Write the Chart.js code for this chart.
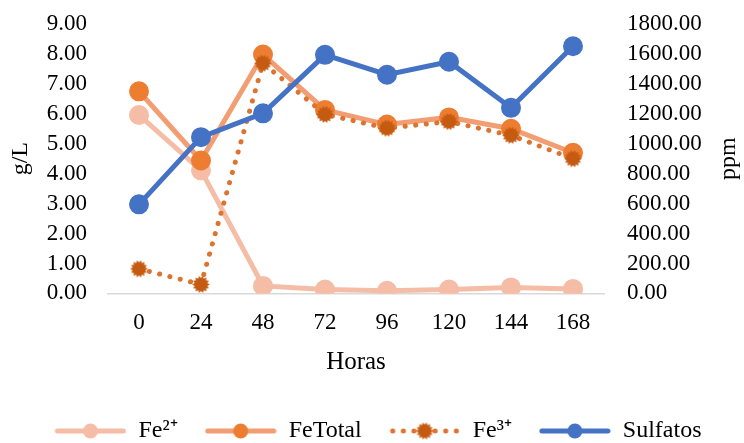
<!DOCTYPE html>
<html>
<head>
<meta charset="utf-8">
<script src="https://cdn.jsdelivr.net/npm/chart.js@4"></script>
<style>
  body { margin: 0; background: #fff; }
  #wrap { width: 744px; height: 443px; }
</style>
</head>
<body>
<div id="wrap"><canvas id="graph-line" width="744" height="443"></canvas></div>
<script>
var horas = ['0', '24', '48', '72', '96', '120', '144', '168'];
var fe2 = [5.96, 4.11, 0.25, 0.13, 0.09, 0.13, 0.20, 0.15];
var feTotal = [6.75, 4.44, 7.98, 6.13, 5.64, 5.88, 5.50, 4.70];
var fe3 = [0.82, 0.30, 7.69, 5.98, 5.52, 5.74, 5.28, 4.50];
var sulfatos = [595, 1044, 1203, 1594, 1461, 1548, 1240, 1651];

var font = 'Liberation Serif, Times New Roman, serif';

function spikyMarker(color, r) {
    var c = document.createElement('canvas');
    var s = Math.ceil(r * 2 + 4);
    c.width = s; c.height = s;
    var g = c.getContext('2d');
    g.translate(s / 2, s / 2);
    g.fillStyle = color;
    g.beginPath();
    var n = 14;
    for (var i = 0; i < n * 2; i++) {
        var a = Math.PI * i / n;
        var rr = i % 2 === 0 ? r + 1.3 : r - 1.0;
        g.lineTo(Math.cos(a) * rr, Math.sin(a) * rr);
    }
    g.closePath();
    g.fill();
    return c;
}

function legendIcon(lineColor, markerColor, dotted) {
    var c = document.createElement('canvas');
    c.width = 72; c.height = 20;
    var g = c.getContext('2d');
    g.strokeStyle = lineColor;
    g.lineWidth = 5;
    g.lineCap = 'round';
    if (dotted) g.setLineDash([0.1, 10.5]);
    g.beginPath();
    g.moveTo(dotted ? 4 : 3, 10);
    g.lineTo(69, 10);
    g.stroke();
    if (dotted) {
        var m = spikyMarker(markerColor, 7.5);
        g.drawImage(m, 36 - m.width / 2, 10 - m.height / 2);
    } else {
        g.fillStyle = markerColor;
        g.beginPath();
        g.arc(36, 10, 7.5, 0, Math.PI * 2);
        g.fill();
    }
    return c;
}

// titulo do eixo direito lido de baixo para cima, como no Excel
var rightTitle = {
    id: 'rightTitle',
    afterDraw: function (chart) {
        var a = chart.chartArea;
        var c = chart.ctx;
        c.save();
        c.translate(729, (a.top + a.bottom) / 2);
        c.rotate(-Math.PI / 2);
        c.fillStyle = '#000';
        c.font = '24px ' + font;
        c.textAlign = 'center';
        c.textBaseline = 'middle';
        c.fillText('ppm', 0, 0);
        c.restore();
    }
};

function createGraphLine() {
    var ctx = document.getElementById('graph-line').getContext('2d');

    var icons = [
        legendIcon('#F5BCA6', '#F5BCA6', false),
        legendIcon('#F29D72', '#ED7D31', false),
        legendIcon('#DC7330', '#C55A11', true),
        legendIcon('#4472C4', '#4472C4', false)
    ];

    var data = {
        labels: horas,
        datasets: [{
            label: 'Fe\u00B2\u207A',
            data: fe2,
            yAxisID: 'y',
            borderColor: '#F5BCA6',
            backgroundColor: '#F5BCA6',
            borderWidth: 5,
            pointRadius: 7.5,
            pointHoverRadius: 7.5,
            order: 3
        }, {
            label: 'FeTotal',
            data: feTotal,
            yAxisID: 'y',
            borderColor: '#F29D72',
            backgroundColor: '#ED7D31',
            pointBorderColor: '#ED7D31',
            borderWidth: 5,
            pointRadius: 7.5,
            pointHoverRadius: 7.5,
            order: 2
        }, {
            label: 'Fe\u00B3\u207A',
            data: fe3,
            yAxisID: 'y',
            borderColor: '#DC7330',
            backgroundColor: '#C55A11',
            borderWidth: 5,
            borderDash: [0.1, 10.5],
            borderCapStyle: 'round',
            pointStyle: spikyMarker('#C55A11', 7.5),
            pointRadius: 7.5,
            order: 1
        }, {
            label: 'Sulfatos',
            data: sulfatos,
            yAxisID: 'y1',
            borderColor: '#4472C4',
            backgroundColor: '#4472C4',
            borderWidth: 5,
            pointRadius: 7.5,
            pointHoverRadius: 7.5,
            order: 0
        }]
    };

    var options = {
        responsive: false,
        animation: false,
        layout: { padding: { left: 12, right: 0, top: 24, bottom: -10 } },
        plugins: {
            legend: {
                position: 'bottom',
                labels: {
                    usePointStyle: true,
                    pointStyleWidth: 72,
                    padding: 27,
                    color: '#000',
                    font: { family: font, size: 24 },
                    sort: function (a, b) { return a.datasetIndex - b.datasetIndex; },
                    generateLabels: function (chart) {
                        var items = Chart.defaults.plugins.legend.labels.generateLabels(chart);
                        items.forEach(function (it) {
                            it.pointStyle = icons[it.datasetIndex];
                            it.lineWidth = 0;
                        });
                        return items;
                    }
                }
            },
            tooltip: { enabled: false }
        },
        scales: {
            x: {
                offset: true,
                grid: { display: false, drawTicks: false },
                border: { color: '#D9D9D9', width: 1.5 },
                ticks: { color: '#000', font: { family: font, size: 23 }, padding: 16 },
                title: { display: true, text: 'Horas', color: '#000', font: { family: font, size: 25 }, padding: { top: -6, bottom: 15 } }
            },
            y: {
                position: 'left',
                min: 0,
                max: 9,
                grid: { display: false, drawTicks: false },
                border: { display: false },
                afterFit: function (scale) {
                    scale.width = 96;
                    scale.paddingTop = 0;
                    scale.paddingBottom = 0;
                },
                ticks: {
                    stepSize: 1,
                    autoSkip: false,
                    color: '#000',
                    font: { family: font, size: 23, lineHeight: 1 },
                    padding: 21,
                    callback: function (v) { return v.toFixed(2); }
                },
                title: { display: true, text: 'g/L', color: '#000', font: { family: font, size: 24 }, padding: { top: -6, bottom: 10 } }
            },
            y1: {
                position: 'right',
                min: 0,
                max: 1800,
                grid: { display: false, drawTicks: false },
                border: { display: false },
                afterFit: function (scale) {
                    scale.width = 140;
                    scale.paddingTop = 0;
                    scale.paddingBottom = 0;
                },
                ticks: {
                    stepSize: 200,
                    autoSkip: false,
                    color: '#000',
                    font: { family: font, size: 23, lineHeight: 1 },
                    padding: 23,
                    callback: function (v) { return v.toFixed(2); }
                }
            }
        }
    };

    var chart = new Chart(ctx, {
        type: 'line',
        data: data,
        options: options,
        plugins: [rightTitle]
    });
}

createGraphLine();
</script>
</body>
</html>
